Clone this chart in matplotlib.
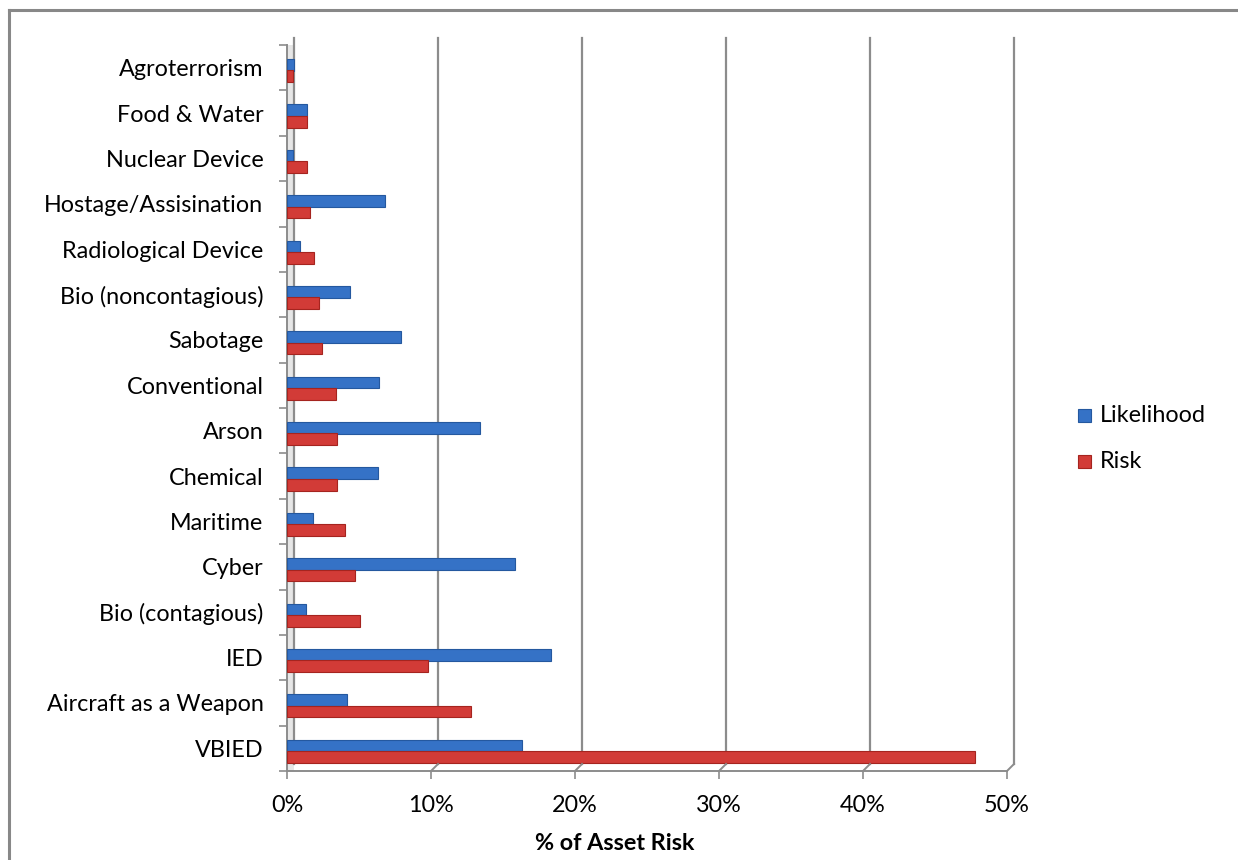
import matplotlib
matplotlib.use('Agg')
import matplotlib.pyplot as plt
import matplotlib.transforms as mtransforms
from matplotlib.patches import Rectangle
from matplotlib.lines import Line2D
import numpy as np

# threat categories, bottom to top
categories = ['VBIED', 'Aircraft as a Weapon', 'IED', 'Bio (contagious)', 'Cyber',
              'Maritime', 'Chemical', 'Arson', 'Conventional', 'Sabotage',
              'Bio (noncontagious)', 'Radiological Device', 'Hostage/Assisination',
              'Nuclear Device', 'Food & Water', 'Agroterrorism']
likelihood = [16.3, 4.2, 18.3, 1.3, 15.8, 1.8, 6.3, 13.4, 6.4, 7.9, 4.4, 0.9, 6.8, 0.4, 1.4, 0.5]
risk = [47.8, 12.8, 9.8, 5.1, 4.7, 4.0, 3.5, 3.5, 3.4, 2.4, 2.2, 1.9, 1.6, 1.4, 1.4, 0.4]
xticks = [0, 10, 20, 30, 40, 50]

BLUE = '#3572C6'
BLUE_EDGE = '#24589F'
RED = '#D23B37'
RED_EDGE = '#A5241F'
GRID = '#8C8C8C'
FS = 16.8

plt.rcParams['font.family'] = ['Lato', 'DejaVu Sans']

W, H = 1238, 860
fig = plt.figure(figsize=(W / 100, H / 100), dpi=100)
left, right, top, bottom = 287, 1007, 45, 771
ax = fig.add_axes([left / W, 1 - bottom / H, (right - left) / W, (bottom - top) / H])
ax.patch.set_alpha(0)

n = len(categories)
y = np.arange(n)
ax.set_xlim(0, 50)
ax.set_ylim(-0.5, n - 0.5)

# back wall offset for the 3D look
off = mtransforms.ScaledTranslation(7 / 100, 7 / 100, fig.dpi_scale_trans)
back = ax.transData + off

# side wall on the left
ax.add_patch(Rectangle((0, -0.5), 0.5, n, transform=ax.transData, facecolor='#E6E6E6',
                       edgecolor='none', zorder=1, clip_on=False))
ax.plot([0, 0], [-0.5, n - 0.5], color=GRID, lw=1.6, transform=back, clip_on=False, zorder=1)

# gridlines on the back wall, joined to the floor edge
for xv in xticks[1:]:
    ax.plot([xv, xv], [-0.5, n - 0.5], color=GRID, lw=1.6, transform=back, clip_on=False, zorder=1)
    p0 = ax.transData.transform((xv, -0.5))
    p1 = back.transform((xv, -0.5))
    fig.add_artist(Line2D([p0[0] / W, p1[0] / W], [p0[1] / H, p1[1] / H], color=GRID, lw=1.4))

bh = 0.26
ax.barh(y + 0.06, likelihood, height=bh, color=BLUE, edgecolor=BLUE_EDGE, lw=0.8, zorder=3)
ax.barh(y - 0.19, risk, height=bh, color=RED, edgecolor=RED_EDGE, lw=0.8, zorder=3)

for s in ['top', 'right']:
    ax.spines[s].set_visible(False)
for s in ['left', 'bottom']:
    ax.spines[s].set_color(GRID)
    ax.spines[s].set_linewidth(1.4)

ax.set_xticks(xticks)
ax.set_xticklabels(['{}%'.format(v) for v in xticks])
ax.tick_params(axis='x', length=6, width=1.2, color=GRID, pad=11, labelsize=FS)

ax.set_yticks(np.arange(n + 1) - 0.5)
ax.set_yticklabels([])
ax.set_yticks(y, minor=True)
ax.set_yticklabels(categories, minor=True)
ax.tick_params(axis='y', which='major', length=6, width=1.2, color=GRID)
ax.tick_params(axis='y', which='minor', length=0, pad=17, labelsize=FS)

ax.set_xlabel('% of Asset Risk', fontsize=FS, fontweight='bold')
ax.xaxis.set_label_coords((615 - left) / (right - left), -(843 - bottom) / (bottom - top))
ax.xaxis.label.set_va('center')

# legend
for i, (lab, col, ec) in enumerate([('Likelihood', BLUE, BLUE_EDGE), ('Risk', RED, RED_EDGE)]):
    yc = 415 + i * 46
    fig.add_artist(Rectangle((1078 / W, 1 - (yc + 7) / H), 13 / W, 13 / H,
                             facecolor=col, edgecolor=ec, lw=0.8, transform=fig.transFigure))
    fig.text(1100 / W, 1 - yc / H, lab, fontsize=FS, va='center', ha='left')

# chart frame
fig.add_artist(Line2D([9 / W, 9 / W], [0, 1 - 10 / H], color='#888888', lw=2.2))
fig.add_artist(Line2D([9 / W, 1], [1 - 10 / H, 1 - 10 / H], color='#888888', lw=2.2))

fig.savefig('out.png', dpi=100)
